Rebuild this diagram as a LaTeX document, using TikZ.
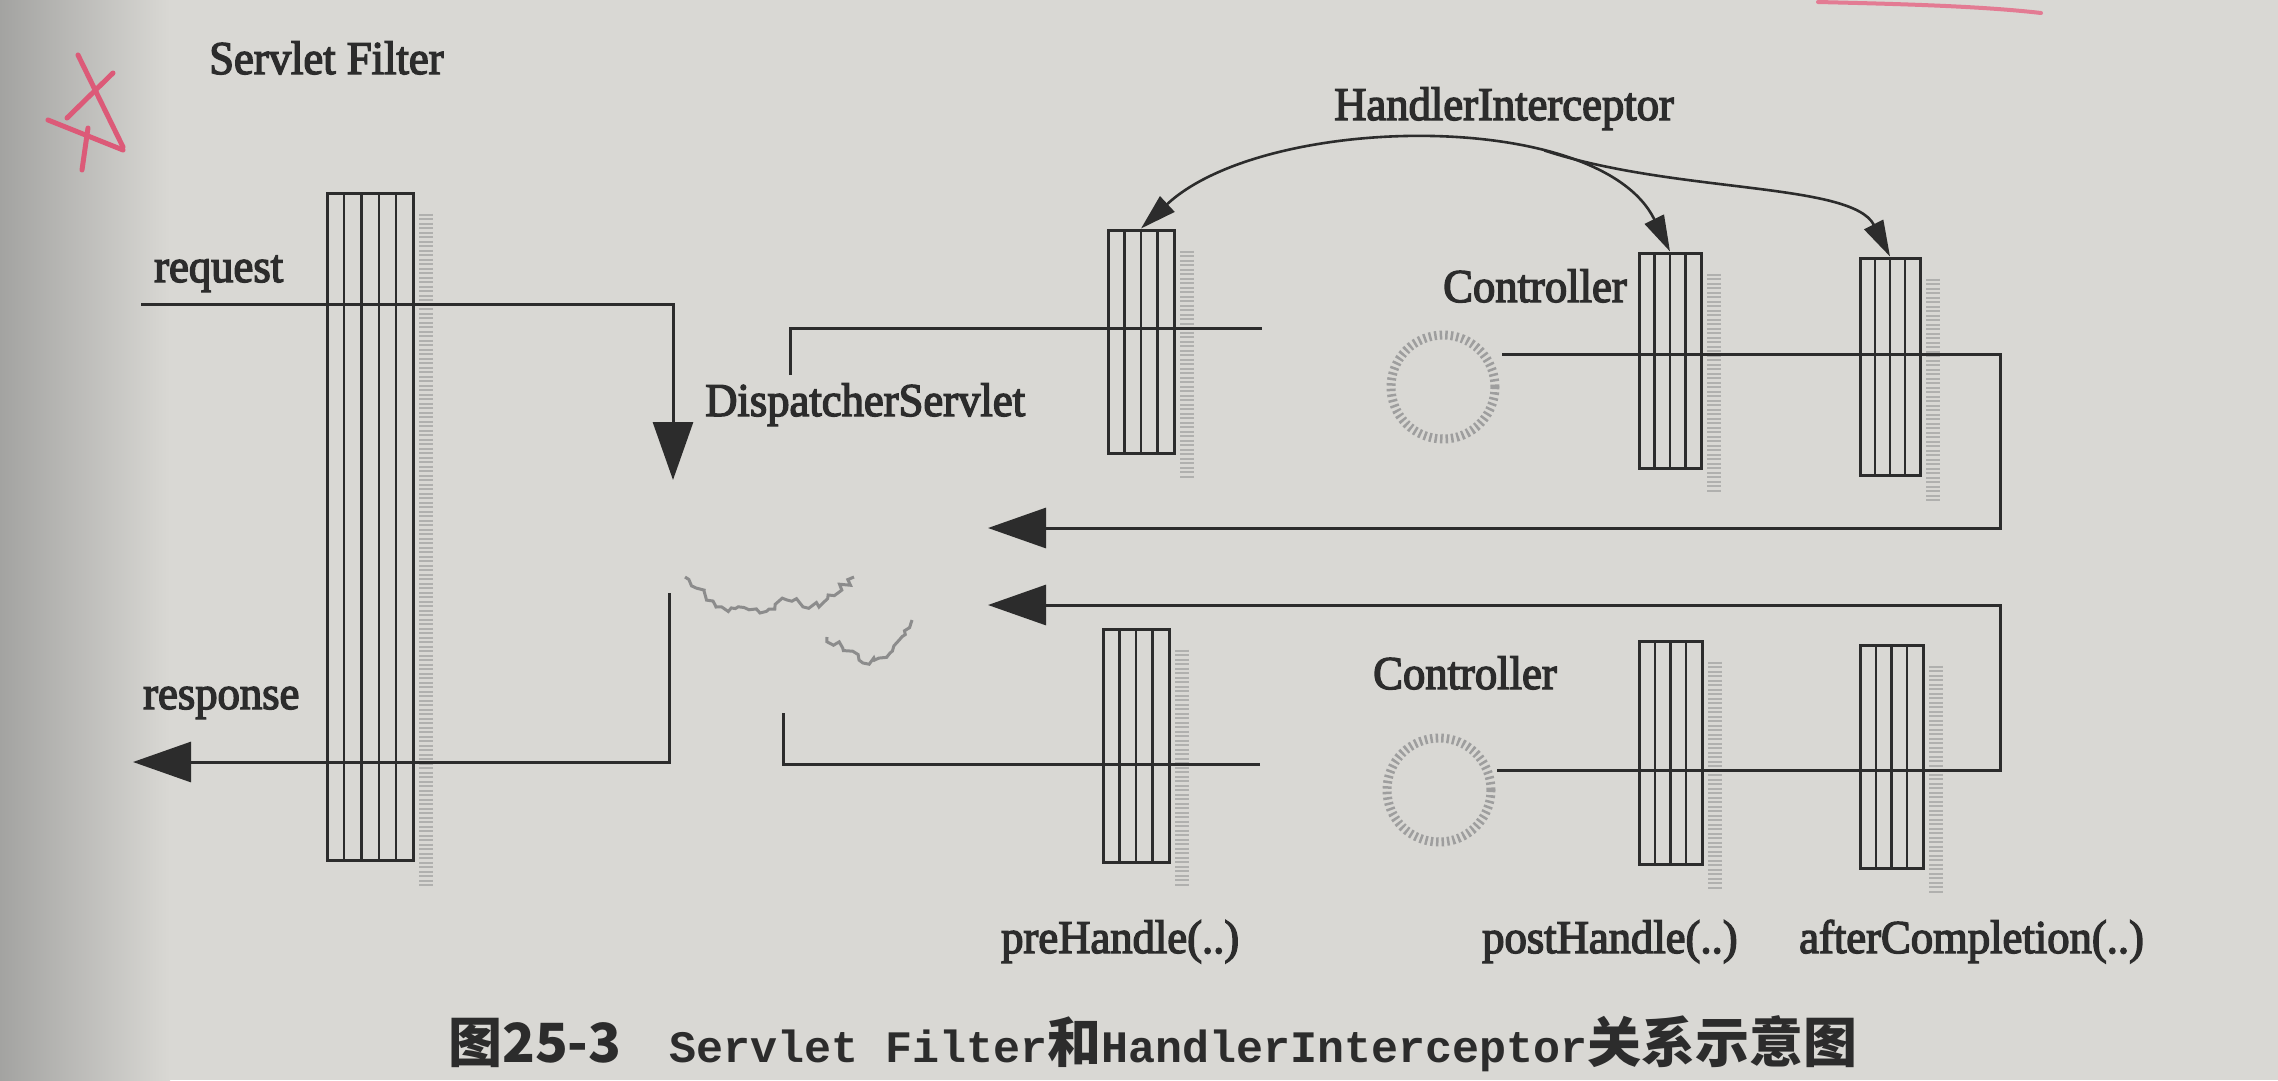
\documentclass[tikz,border=0pt]{standalone}
\usepackage{fontspec}
\setmainfont{Liberation Serif}
\newfontfamily\lblfont{Liberation Serif}[FakeBold=3, FakeStretch=0.95]
\newfontfamily\cjkfont{Noto Sans CJK SC}
\newfontfamily\monofont{Liberation Mono}
\usetikzlibrary{arrows.meta,calc,decorations.pathmorphing}
\definecolor{paper}{HTML}{D9D8D4}
\definecolor{paperdark}{HTML}{A3A3A1}
\definecolor{ink}{HTML}{2C2C2C}
\definecolor{pen}{HTML}{DC5A78}
\newcommand{\capcjk}{\cjkfont\bfseries\fontsize{54}{60}\selectfont}
\newcommand{\capmono}{\monofont\bfseries\fontsize{45}{60}\selectfont}
\tikzset{
  lbl/.style={font=\lblfont\fontsize{47}{50}\selectfont, text=ink, inner sep=0pt, anchor=base west},
  wire/.style={draw=ink, line width=3pt},
  bigtip/.style={-{Triangle[length=58pt,width=40pt]}},
  hiarc/.style={draw=ink, line width=2.6pt},
  colbase/.style={rectangle, draw=ink, line width=3pt, inner sep=0pt},
  col4/.style={colbase, path picture={
    \foreach \stripf in {0.25,0.5,0.75}{
      \draw[ink,line width=2.2pt]
        ($(path picture bounding box.south west)!\stripf!(path picture bounding box.south east)$) --
        ($(path picture bounding box.north west)!\stripf!(path picture bounding box.north east)$);}}},
  col5/.style={colbase, path picture={
    \foreach \stripf in {0.2,0.4,0.6,0.8}{
      \draw[ink,line width=2.2pt]
        ($(path picture bounding box.south west)!\stripf!(path picture bounding box.south east)$) --
        ($(path picture bounding box.north west)!\stripf!(path picture bounding box.north east)$);}}},
  shadowband/.style={draw=black!50, line width=14pt, dash pattern=on 2pt off 2.5pt, opacity=0.45},
  ctrl/.style={circle, draw=black!38, line width=9pt, dash pattern=on 2.5pt off 3pt, minimum size=104pt, inner sep=0pt},
  smudge/.style={draw=black!45, line width=3pt, decorate, decoration={random steps, segment length=5pt, amplitude=4pt}},
}
\begin{document}
\begin{tikzpicture}[x=1pt,y=-1pt]
\pgfmathsetseed{7}
% paper
\fill[paper] (0,0) rectangle (2278,1080);
\shade[left color=paperdark, right color=paper] (0,0) rectangle (170,1080);
\useasboundingbox (0,0) rectangle (2278,1080);

% pen marks
\draw[pen, line width=5pt, line cap=round] (78,55) -- (123,147);
\draw[pen, line width=5pt, line cap=round] (48,120) -- (123,150);
\draw[pen, line width=5pt, line cap=round] (113,73) -- (67,118);
\draw[pen, line width=5pt, line cap=round] (88,128) -- (82,170);
\draw[pen!80, line width=4pt, line cap=round] (1818,2) .. controls (1900,4) and (1980,6) .. (2041,13);

% smudge near DispatcherServlet
\draw[smudge] (685,577) -- (716,607) -- (760,613) -- (787,600) -- (819,607) -- (854,577);
\draw[smudge] (827,637) -- (863,663) -- (890,653) -- (912,620);

% columns
\node[col5, minimum width=86pt, minimum height=667pt] (filter) at (370,526.5) {};
\node[col4, minimum width=66pt, minimum height=223pt] (pre1) at (1141,341.5) {};
\node[col4, minimum width=62pt, minimum height=215pt] (post1) at (1670,360.5) {};
\node[col4, minimum width=60pt, minimum height=217pt] (after1) at (1890,366.5) {};
\node[col4, minimum width=66pt, minimum height=233pt] (pre2) at (1136,745.5) {};
\node[col4, minimum width=63pt, minimum height=223pt] (post2) at (1670.5,752.5) {};
\node[col4, minimum width=63pt, minimum height=223pt] (after2) at (1891.5,756.5) {};
\foreach \c in {filter,pre1,post1,after1,pre2,post2,after2}
  \draw[shadowband] ([xshift=11pt,yshift=-22pt]\c.north east) -- ([xshift=11pt,yshift=-24pt]\c.south east);

% controllers
\node[ctrl] (ctrl1) at (1443,387) {};
\node[ctrl] (ctrl2) at (1439,790) {};

% connector points
\coordinate (reqS) at (141,304);
\coordinate (reqC) at (673,304);
\coordinate (reqE) at (673,480);
\coordinate (dsT) at (790,375);
\coordinate (dsTc) at (790,328);
\coordinate (t1E) at (1262,328);
\coordinate (uS) at (1502,354);
\coordinate (uR1) at (2000,354);
\coordinate (uR2) at (2000,528);
\coordinate (uTip) at (988,528);
\coordinate (lS) at (1497,770);
\coordinate (lR1) at (2000,770);
\coordinate (lR2) at (2000,605);
\coordinate (lTip) at (988,605);
\coordinate (b1E) at (1260,764);
\coordinate (dsBc) at (783,764);
\coordinate (dsB) at (783,713);
\coordinate (rsT) at (669,593);
\coordinate (rsC) at (669,762);
\coordinate (rsTip) at (133,762);

\draw[wire,bigtip] (reqS) -- (reqC) -- (reqE);
\draw[wire] (dsT) -- (dsTc) -- (t1E);
\draw[wire,bigtip] (uS) -- (uR1) -- (uR2) -- (uTip);
\draw[wire,bigtip] (lS) -- (lR1) -- (lR2) -- (lTip);
\draw[wire] (b1E) -- (dsBc) -- (dsB);
\draw[wire,bigtip] (rsT) -- (rsC) -- (rsTip);

% interceptor arcs
\draw[hiarc, {Triangle[length=36pt,width=21pt]}-{Triangle[length=36pt,width=21pt]}]
  (pre1.north) .. controls (1265,113) and (1600,108) .. (post1.north) coordinate[pos=0.7] (br);
\coordinate (brv) at ($(br)+(-4,-11)$);
\draw[hiarc, -{Triangle[length=36pt,width=21pt]}]
  (brv) .. controls +(130,43) and (1852,182) .. (after1.north);

% labels
\node[lbl] (tSF) at (209,74) {Servlet Filter};
\node[lbl] (treq) at (154,282) {request};
\node[lbl] (tds) at (705,416) {DispatcherServlet};
\node[lbl] (tresp) at (143,709) {response};
\node[lbl] (thi) at (1334,120) {HandlerInterceptor};
\node[lbl] (tc1) at (1443,302) {Controller};
\node[lbl] (tc2) at (1373,689) {Controller};
\node[lbl] (tpre) at (1001,953) {preHandle(..)};
\node[lbl] (tpost) at (1482,953) {postHandle(..)};
\node[lbl] (taft) at (1799,953) {afterCompletion(..)};

\node[anchor=west, inner sep=0pt, text=ink] (cap) at (448,1044)
  {\capcjk 图25-3\hspace{48pt}\capmono Servlet Filter\capcjk 和\capmono HandlerInterceptor\capcjk 关系示意图};
\end{tikzpicture}
\end{document}
